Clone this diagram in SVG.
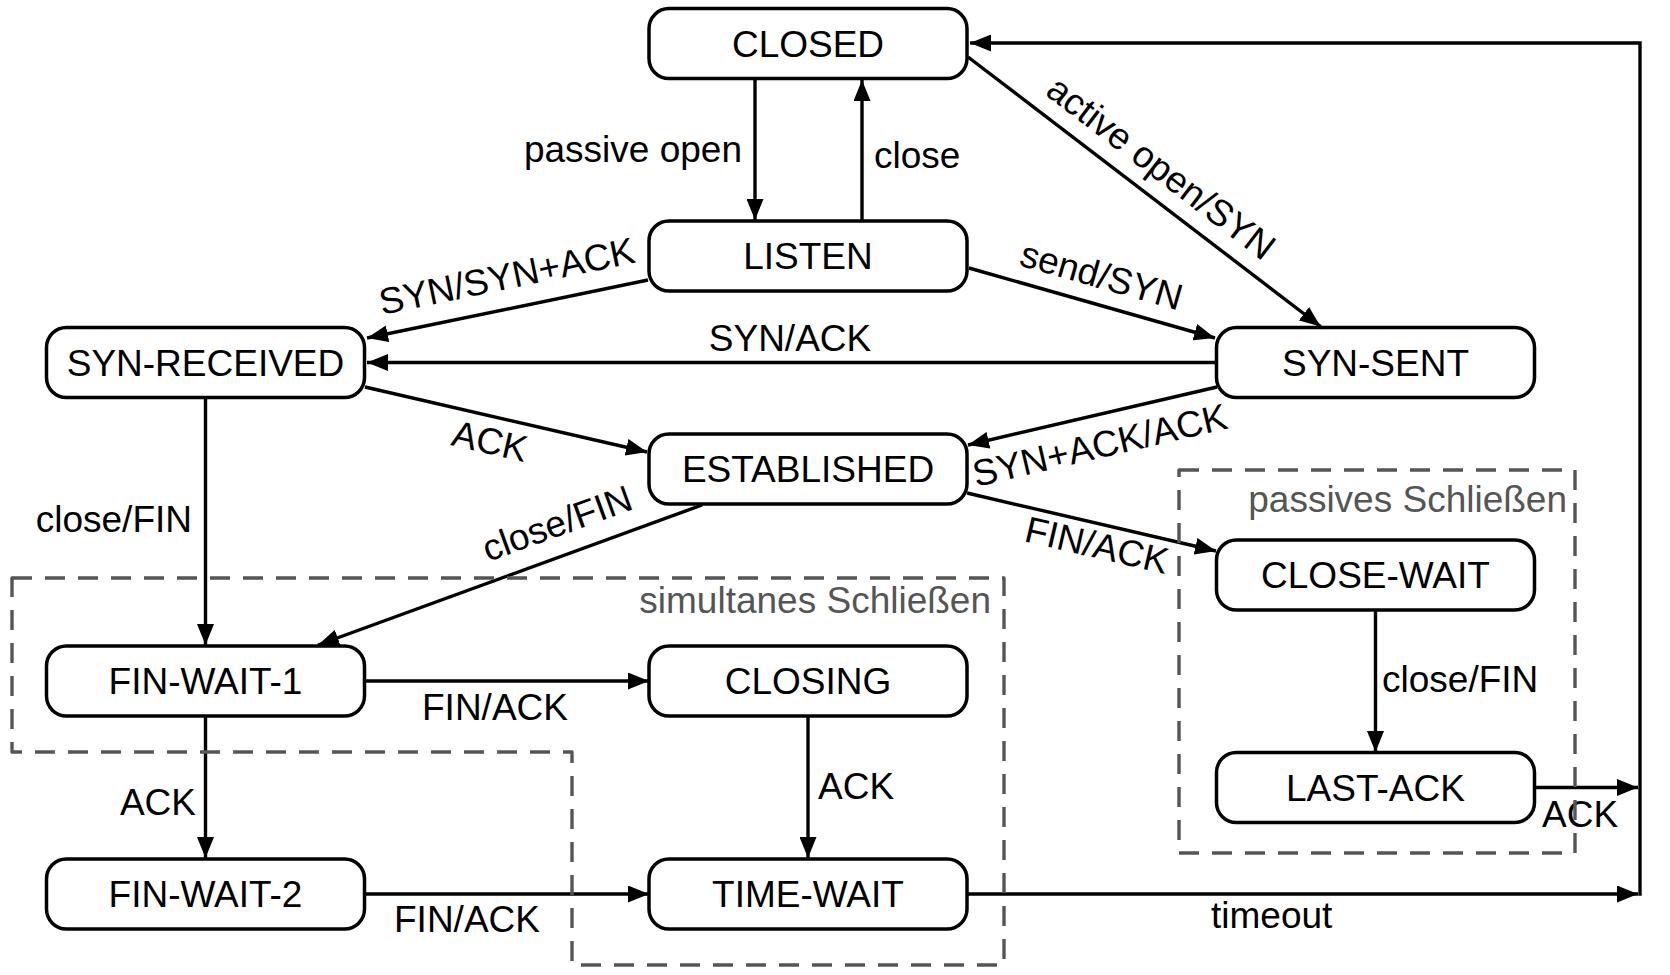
<svg xmlns="http://www.w3.org/2000/svg" width="1670" height="975" viewBox="0 0 1670 975">
<style>
.box{fill:#fff;stroke:#000;stroke-width:3.5}
.nt{font-family:"Liberation Sans",Arial,sans-serif;font-size:37px;fill:#000;text-anchor:middle}
.lb{font-family:"Liberation Sans",Arial,sans-serif;font-size:37px;fill:#000}
.gl{font-family:"Liberation Sans",Arial,sans-serif;font-size:37px;fill:#555;text-anchor:end}
.e{fill:none;stroke:#000;stroke-width:3.4;marker-end:url(#ah)}
.grp{fill:none;stroke:#555;stroke-width:3.4;stroke-dasharray:20 13;stroke-linejoin:round}
</style>
<defs>
<marker id="ah" markerUnits="userSpaceOnUse" markerWidth="21" markerHeight="17" refX="21" refY="8.5" orient="auto">
<path d="M0,0 L21,8.5 L0,17 z" fill="#000"/>
</marker>
</defs>
<rect width="1670" height="975" fill="#fff"/>
<g id="connectors">
<path class="e" d="M755,80 L755,220"/>
<text class="lb" x="742" y="162" text-anchor="end">passive open</text>
<path class="e" d="M862,220 L862,80"/>
<text class="lb" x="874" y="168">close</text>
<path class="e" d="M968,57 L1320.6,326.5"/>
<text class="lb" transform="translate(1044,94) rotate(37.4)">active open/SYN</text>
<path class="e" d="M969,268 L1215,338"/>
<text class="lb" transform="translate(1018,265) rotate(15.9)">send/SYN</text>
<path class="e" d="M648,280 L367,338"/>
<text class="lb" transform="translate(382,315) rotate(-11.7)">SYN/SYN+ACK</text>
<path class="e" d="M1216,362.5 L367,362.5"/>
<text class="lb" x="790" y="351" text-anchor="middle">SYN/ACK</text>
<path class="e" d="M365,387 L647,452"/>
<text class="lb" transform="translate(450,445) rotate(13)">ACK</text>
<path class="e" d="M1217,387 L968,445"/>
<text class="lb" transform="translate(976,487) rotate(-13.1)">SYN+ACK/ACK</text>
<path class="e" d="M967,493 L1216,551"/>
<text class="lb" transform="translate(1023,541) rotate(13.1)">FIN/ACK</text>
<path class="e" d="M702,505 L318,645"/>
<text class="lb" transform="translate(488,562) rotate(-20)">close/FIN</text>
<path class="e" d="M205.5,398 L205.5,645"/>
<text class="lb" x="192" y="532" text-anchor="end">close/FIN</text>
<path class="e" d="M365,681 L649,681"/>
<text class="lb" x="422" y="720">FIN/ACK</text>
<path class="e" d="M205.5,716 L205.5,858"/>
<text class="lb" x="196" y="815" text-anchor="end">ACK</text>
<path class="e" d="M808,716 L808,858"/>
<text class="lb" x="818" y="799">ACK</text>
<path class="e" d="M365,894 L649,894"/>
<text class="lb" x="394" y="932">FIN/ACK</text>
<path class="e" d="M1375.5,610 L1375.5,752"/>
<text class="lb" x="1382" y="692">close/FIN</text>
<path class="e" d="M1535,787.5 L1638,787.5"/>
<text class="lb" x="1542" y="827">ACK</text>
<path class="e" d="M967,894 L1638,894"/>
<text class="lb" x="1211" y="928">timeout</text>
<path class="e" d="M1640,895.7 L1640,43 L970,43"/>
</g>
<g id="n-closed"><rect class="box" x="649" y="8.6" width="318" height="70" rx="20"/><text class="nt" x="808" y="57">CLOSED</text></g>
<g id="n-listen"><rect class="box" x="649" y="221" width="318" height="70" rx="20"/><text class="nt" x="808" y="269">LISTEN</text></g>
<g id="n-synrcvd"><rect class="box" x="46.5" y="327.5" width="318" height="70" rx="20"/><text class="nt" x="205.5" y="375.5">SYN-RECEIVED</text></g>
<g id="n-synsent"><rect class="box" x="1216.5" y="327.5" width="318" height="70" rx="20"/><text class="nt" x="1375.5" y="375.5">SYN-SENT</text></g>
<g id="n-established"><rect class="box" x="649" y="434" width="318" height="70" rx="20"/><text class="nt" x="808" y="482">ESTABLISHED</text></g>
<g id="n-closewait"><rect class="box" x="1216.5" y="540" width="318" height="70" rx="20"/><text class="nt" x="1375.5" y="588">CLOSE-WAIT</text></g>
<g id="n-finwait1"><rect class="box" x="46.5" y="646" width="318" height="70" rx="20"/><text class="nt" x="205.5" y="694">FIN-WAIT-1</text></g>
<g id="n-closing"><rect class="box" x="649" y="646" width="318" height="70" rx="20"/><text class="nt" x="808" y="694">CLOSING</text></g>
<g id="n-lastack"><rect class="box" x="1216.5" y="752.5" width="318" height="70" rx="20"/><text class="nt" x="1375.5" y="800.5">LAST-ACK</text></g>
<g id="n-finwait2"><rect class="box" x="46.5" y="859" width="318" height="70" rx="20"/><text class="nt" x="205.5" y="907">FIN-WAIT-2</text></g>
<g id="n-timewait"><rect class="box" x="649" y="859" width="318" height="70" rx="20"/><text class="nt" x="808" y="907">TIME-WAIT</text></g>
<g id="g-simultan">
<path class="grp" d="M12,578 L1004,578 L1004,965 L572,965 L572,752 L12,752 Z"/>
<text class="gl" x="991" y="613">simultanes Schließen</text>
</g>
<g id="g-passiv">
<rect class="grp" x="1179" y="470" width="396" height="383"/>
<text class="gl" x="1567" y="512">passives Schließen</text>
</g>
</svg>
